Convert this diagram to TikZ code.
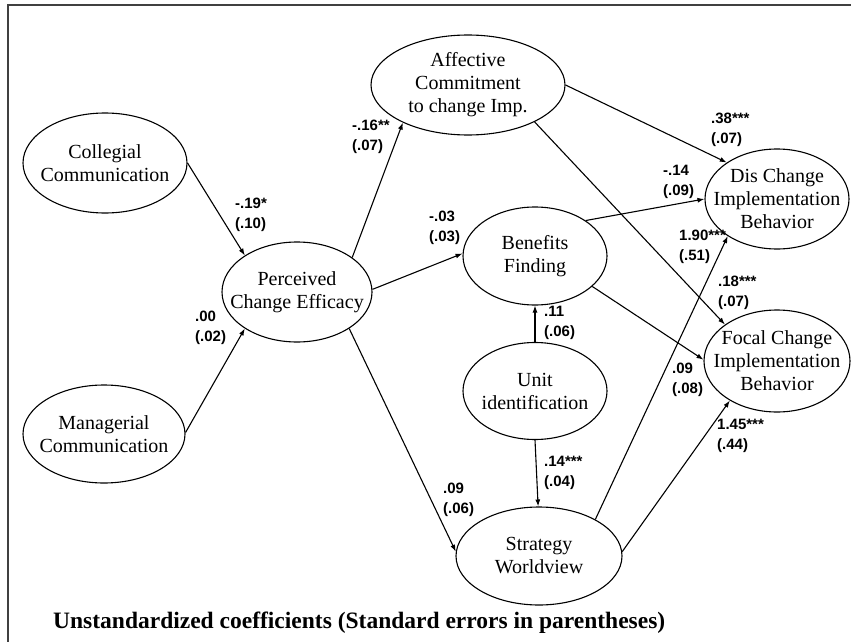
\documentclass[tikz,border=0pt]{standalone}
\usepackage{fontspec}
\setmainfont{Liberation Serif}
\newfontfamily\lblfont{Liberation Sans}
\usetikzlibrary{arrows.meta,shapes.geometric}
\begin{document}
\begin{tikzpicture}[x=1pt,y=-1pt,
  latent/.style={draw=black, line width=1.1pt, ellipse, inner sep=0pt},
  ltext/.style={inner sep=0pt, align=center, font=\fontsize{20}{23}\selectfont},
  pathar/.style={draw=black, line width=1.1pt, -{Latex[length=7pt,width=5pt]}},
  coef/.style={anchor=west, inner sep=0pt, align=left,
               font=\lblfont\bfseries\fontsize{15}{20}\selectfont},
  frameline/.style={draw=black!75, line width=2pt}]
\useasboundingbox (0,0) rectangle (851,642);
\coordinate (ftl) at (8,5);
\coordinate (ftr) at (851,5);
\coordinate (fbl) at (8,642);
\draw[frameline] (ftr) -- (ftl) -- (fbl);

\node[latent, minimum width=164pt, minimum height=100pt] (coll) at (105,163) {};
\node[latent, minimum width=162pt, minimum height=98pt] (mgr) at (104,434) {};
\node[latent, minimum width=150pt, minimum height=100pt] (pce) at (297,292) {};
\node[latent, minimum width=194pt, minimum height=100pt] (aff) at (468,85) {};
\node[latent, minimum width=144pt, minimum height=100pt] (dis) at (777,199) {};
\node[latent, minimum width=144pt, minimum height=98pt] (ben) at (535,256) {};
\node[latent, minimum width=144pt, minimum height=97pt] (unit) at (535,391) {};
\node[latent, minimum width=146pt, minimum height=102pt] (focal) at (777,361) {};
\node[latent, minimum width=166pt, minimum height=98pt] (strat) at (539,556) {};

\node[ltext] (collt) at (coll) {Collegial\\Communication};
\node[ltext] (mgrt) at (mgr) {Managerial\\Communication};
\node[ltext] (pcet) at (pce) {Perceived\\Change Efficacy};
\node[ltext] (afft) at (aff) {Affective\\Commitment\\to change Imp.};
\node[ltext] (dist) at (dis) {Dis Change\\Implementation\\Behavior};
\node[ltext] (bent) at (ben) {Benefits\\Finding};
\node[ltext] (unitt) at (unit) {Unit\\identification};
\node[ltext] (focalt) at (focal) {Focal Change\\Implementation\\Behavior};
\node[ltext] (stratt) at (strat) {Strategy\\Worldview};

\draw[pathar] (coll.0) -- (pce.145);
\draw[pathar] (mgr.1) -- (pce.215);
\draw[pathar] (pce.32) -- (aff.210);
\draw[pathar] (pce.2) -- (ben.178);
\draw[pathar] (pce.-35) -- (strat.177);
\draw[pathar] (aff.0) -- (dis.144);
\draw[pathar] (aff.-29) -- (focal.145);
\draw[pathar] (ben.35) -- (dis.180);
\draw[pathar] (ben.-28) -- (focal.179);
\draw[pathar] (unit.90) -- (ben.-90);
\draw[pathar] (unit.-90) -- (strat.91);
\draw[pathar] (strat.33) -- (dis.217);
\draw[pathar] (strat.3) -- (focal.220);

\node[coef] (l1) at (235,215) {-.19*\\(.10)};
\node[coef] (l2) at (352,137) {-.16**\\(.07)};
\node[coef] (l3) at (195,328) {.00\\(.02)};
\node[coef] (l4) at (429,228) {-.03\\(.03)};
\node[coef] (l5) at (443,500) {.09\\(.06)};
\node[coef] (l6) at (544,323) {.11\\(.06)};
\node[coef] (l7) at (544,473) {.14***\\(.04)};
\node[coef] (l8) at (711,130) {.38***\\(.07)};
\node[coef] (l9) at (663,182) {-.14\\(.09)};
\node[coef] (l10) at (679,247) {1.90***\\(.51)};
\node[coef] (l11) at (718,293) {.18***\\(.07)};
\node[coef] (l12) at (672,380) {.09\\(.08)};
\node[coef] (l13) at (717,436) {1.45***\\(.44)};

\node[anchor=west, inner sep=0pt, font=\bfseries\fontsize{23.5}{26}\selectfont] (cap) at (53,623)
  {Unstandardized coefficients (Standard errors in parentheses)};
\end{tikzpicture}
\end{document}
